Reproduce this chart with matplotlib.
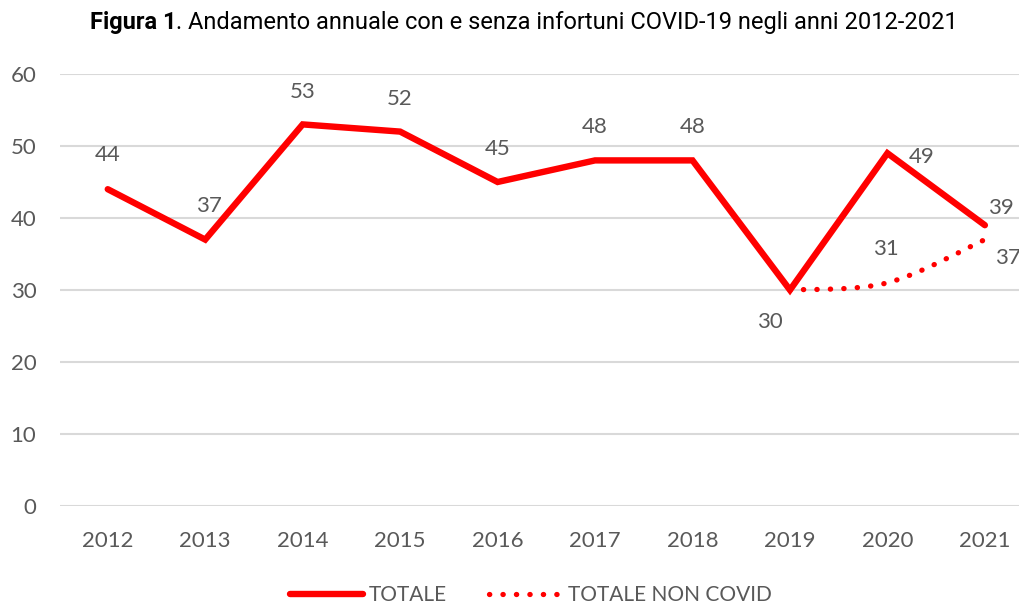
import matplotlib.pyplot as plt
from matplotlib.path import Path
from matplotlib.patches import PathPatch
from matplotlib.lines import Line2D

years = ["2012", "2013", "2014", "2015", "2016", "2017", "2018", "2019", "2020", "2021"]
totale = [44, 37, 53, 52, 45, 48, 48, 30, 49, 39]
non_covid_years = ["2019", "2020", "2021"]
non_covid = [30, 31, 37]

red = "#ff0000"
grey = "#595959"
PT = 0.72  # pixels -> points at dpi 100

fig = plt.figure(figsize=(10.19, 6.05), dpi=100)
ax = fig.add_axes([60 / 1019, 1 - 506 / 605, 1 - 60 / 1019, (506 - 74) / 605])

x = list(range(len(years)))
ax.plot(x, totale, color=red, lw=4.6, solid_joinstyle="miter", solid_capstyle="round", zorder=3)

# smoothed dotted series (Catmull-Rom -> cubic Bezier, like Excel "smoothed line")
xn = [years.index(y) for y in non_covid_years]
pts = list(zip(xn, non_covid))
verts = [pts[0]]
codes = [Path.MOVETO]
for i in range(len(pts) - 1):
    p0 = pts[i - 1] if i > 0 else pts[i]
    p1, p2 = pts[i], pts[i + 1]
    p3 = pts[i + 2] if i + 2 < len(pts) else pts[i + 1]
    c1 = (p1[0] + (p2[0] - p0[0]) / 6, p1[1] + (p2[1] - p0[1]) / 6)
    c2 = (p2[0] - (p3[0] - p1[0]) / 6, p2[1] - (p3[1] - p1[1]) / 6)
    verts += [c1, c2, p2]
    codes += [Path.CURVE4] * 3
patch = PathPatch(Path(verts, codes), fill=False, edgecolor=red, lw=3.8,
                  linestyle=(0, (0.05, 2.5)), capstyle="round", zorder=3)
ax.add_patch(patch)

ax.set_xlim(-0.49, 9.35)
ax.set_ylim(0, 60)
ax.set_yticks(range(0, 61, 10))
ax.set_xticks(x)
ax.set_xticklabels(years)
ax.grid(axis="y", color="#d9d9d9", lw=1.5)
ax.set_axisbelow(True)
for s in ax.spines.values():
    s.set_visible(False)
ax.tick_params(length=0, labelsize=16, colors=grey)
ax.tick_params(axis="x", pad=18)
ax.tick_params(axis="y", pad=17)
for lab in ax.get_xticklabels() + ax.get_yticklabels():
    lab.set_fontfamily("Lato")

# data labels (offsets in pixels, right/up positive)
tot_off = [(0, 34), (4, 34), (0, 32), (0, 33), (0, 33), (0, 33),
           (0, 33), (-20, -32), (34, -4), (16, 17)]
for i, v in enumerate(totale):
    dx, dy = tot_off[i]
    ax.annotate(str(v), (i, v), xytext=(dx * PT, dy * PT), textcoords="offset points",
                ha="center", va="center", fontsize=16, color=grey, family="Lato")
nc_off = [None, (-2, 34), (23, -18)]
for j, (xi, v) in enumerate(zip(xn, non_covid)):
    if nc_off[j] is None:
        continue
    dx, dy = nc_off[j]
    ax.annotate(str(v), (xi, v), xytext=(dx * PT, dy * PT), textcoords="offset points",
                ha="center", va="center", fontsize=16, color=grey, family="Lato")

# title: bold part + regular part
fig.canvas.draw()
r = fig.canvas.get_renderer()
t1 = fig.text(90 / 1019, 1 - 22 / 605, "Figura 1", fontsize=17, fontweight="bold",
              family="Roboto", va="center", ha="left")
ext = t1.get_window_extent(renderer=r)
fig.text(ext.x1 / 1019, 1 - 22 / 605, ". Andamento annuale con e senza infortuni COVID-19 negli anni 2012-2021",
         fontsize=17, family="Roboto", va="center", ha="left")

handles = [Line2D([], [], color=red, lw=4.6, solid_capstyle="round"),
           Line2D([], [], color=red, lw=3.8, linestyle=(0, (0.05, 2.5)), dash_capstyle="round")]
leg = fig.legend(handles, ["TOTALE", "TOTALE NON COVID"], loc="center", ncol=2,
                 bbox_to_anchor=(531 / 1019, 1 - 595 / 605), frameon=False,
                 handlelength=3.5, handletextpad=0.3, columnspacing=2.0,
                 prop={"family": "Lato", "size": 15})
for t in leg.get_texts():
    t.set_color(grey)

fig.savefig("out.png", dpi=100)
